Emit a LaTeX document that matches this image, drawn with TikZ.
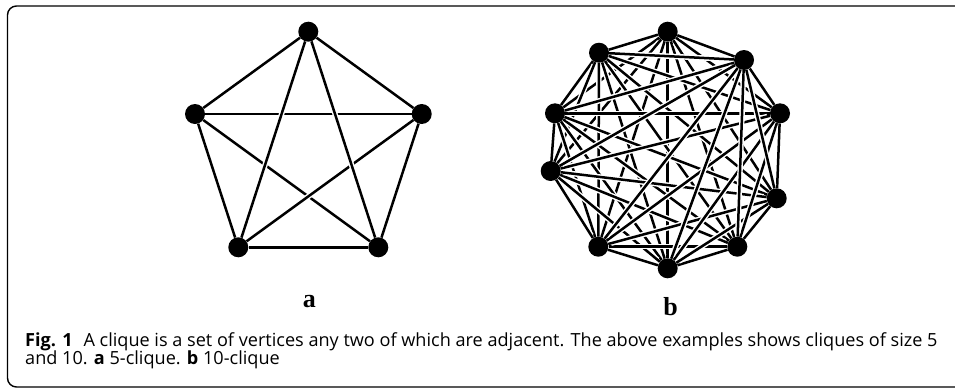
\documentclass[tikz,border=0pt]{standalone}
\usepackage{fontspec}
\setmainfont{Liberation Serif}
\newfontfamily\capfont{Open Sans}
\begin{document}
\begin{tikzpicture}[x=1pt,y=-1pt,
  vtx/.style={circle,fill=black,inner sep=0pt,minimum size=20pt},
  edge/.style={line width=2.5pt,preaction={draw=white,line width=5.4pt,shorten >=3pt,shorten <=3pt}},
  frame/.style={draw=black,line width=1.4pt,rounded corners=9pt},
  sublabel/.style={anchor=base,inner sep=0pt,font=\fontsize{26}{26}\selectfont\bfseries},
  captext/.style={anchor=base west,inner sep=0pt,font=\capfont\fontsize{18.1}{18.1}\selectfont}]
\useasboundingbox (0,0) rectangle (955,389);
\draw[frame] (7.5,6) rectangle (980,387);
% 5-clique
\node[vtx] (a1) at (308.3,31.7) {};
\node[vtx] (a2) at (195,114) {};
\node[vtx] (a3) at (238.3,247.3) {};
\node[vtx] (a4) at (378.3,247.3) {};
\node[vtx] (a5) at (421.7,114) {};
\foreach \i/\j in {1/2,2/3,3/4,4/5,5/1,2/5,2/4,3/5,1/3,1/4}
  \draw[edge] (a\i) -- (a\j);
% 10-clique
\node[vtx] (b1) at (667.7,31.7) {};
\node[vtx] (b2) at (599,52.7) {};
\node[vtx] (b3) at (555,113.3) {};
\node[vtx] (b4) at (550.7,171) {};
\node[vtx] (b5) at (598.3,246.7) {};
\node[vtx] (b6) at (667.7,268.3) {};
\node[vtx] (b7) at (737.3,246.7) {};
\node[vtx] (b8) at (776.7,198.3) {};
\node[vtx] (b9) at (780,113.3) {};
\node[vtx] (b10) at (744,60) {};
\foreach \i in {1,...,9}{
  \pgfmathtruncatemacro{\s}{\i+1}
  \foreach \j in {\s,...,10}
    \draw[edge] (b\i) -- (b\j);
}
% labels
\node[sublabel] (la) at (309.3,307.3) {a};
\node[sublabel] (lb) at (670.7,315) {b};
% caption
\node[captext] (cap1) at (25,346) {\textbf{Fig. 1}\hspace{0.6em}A clique is a set of vertices any two of which are adjacent. The above examples shows cliques of size 5};
\node[captext] (cap2) at (25,364.5) {and 10. \textbf{a} 5-clique. \textbf{b} 10-clique};
\end{tikzpicture}
\end{document}
